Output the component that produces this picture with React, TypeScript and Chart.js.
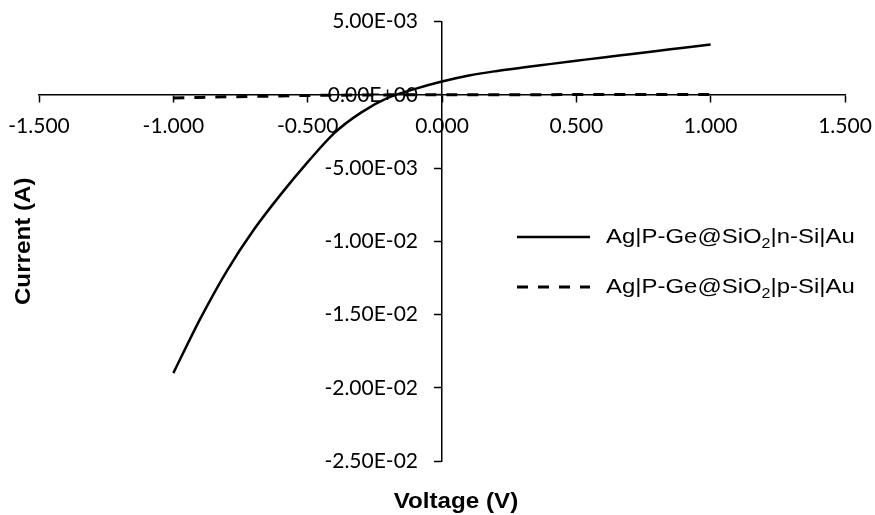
import React, { useEffect, useRef } from "react";
import { Chart, registerables } from "chart.js";

Chart.register(...registerables);

// ---- data ----
const voltage = [-1.0, -0.9, -0.8, -0.7, -0.6, -0.5, -0.4, -0.3, -0.2, -0.1, 0.0, 0.1, 0.2, 0.3, 0.4, 0.5, 0.6, 0.7, 0.8, 0.9, 1.0];
const currentNSi = [-0.0190, -0.0153, -0.0120, -0.0092, -0.0068, -0.0046, -0.0026, -0.0012, -0.0002, 0.0004, 0.0009, 0.00131, 0.00161, 0.00186, 0.00209, 0.00232, 0.00255, 0.00277, 0.00299, 0.00321, 0.00343];
const currentPSi = [-0.00022, -0.00018, -0.00014, -0.00011, -0.00008, -0.00005, -0.00003, -0.000015, -0.000008, -0.000003, 0.0, 0.000002, 0.000004, 0.000006, 0.000008, 0.00001, 0.000012, 0.000014, 0.000016, 0.000018, 0.00002];

const xMin = -1.5;
const xMax = 1.5;
const xStep = 0.5;
const yMin = -0.025;
const yMax = 0.005;
const yStep = 0.005;

const xTitle = "Voltage (V)";
const yTitle = "Current (A)";
const legendPre = ["Ag|P-Ge@SiO", "Ag|P-Ge@SiO"];
const legendSub = ["2", "2"];
const legendPost = ["|n-Si|Au", "|p-Si|Au"];
const seriesNames = ["Ag|P-Ge@SiO2|n-Si|Au", "Ag|P-Ge@SiO2|p-Si|Au"];

// ---- layout ----
const W = 875;
const H = 515;
const PAD = { left: 39, right: 30, top: 21.5, bottom: 54 };
const Y_LABEL_GAP_PX = 24;
const pxPerVolt = (W - PAD.left - PAD.right) / (xMax - xMin);
const yLabelAnchor = -Y_LABEL_GAP_PX / pxPerVolt;

function fmtSci(v: number): string {
  if (Math.abs(v) < 1e-12) return "0.00E+00";
  const parts = v.toExponential(2).split("e");
  const n = parseInt(parts[1], 10);
  return parts[0] + "E" + (n < 0 ? "-" : "+") + String(Math.abs(n)).padStart(2, "0");
}

const TICK_FONT = "Lato";
const TEXT_FONT = '"Liberation Sans", Arial, sans-serif';
const STRETCH = 1.1;
const LEGEND_STRETCH = 1.14;

const zeroPadding = (scale: any) => {
  scale.paddingLeft = 0;
  scale.paddingRight = 0;
  scale.paddingTop = 0;
  scale.paddingBottom = 0;
};

const overlayPlugin = {
  id: "overlayText",
  afterDraw(chart: any) {
    const ctx = chart.ctx as CanvasRenderingContext2D;
    const area = chart.chartArea;
    const xs = chart.scales.x;
    ctx.save();
    ctx.fillStyle = "#000";
    // axis titles
    ctx.font = "bold 22px " + TEXT_FONT;
    ctx.textAlign = "center";
    ctx.textBaseline = "middle";
    ctx.save();
    ctx.translate(xs.getPixelForValue(0) + 14, area.bottom + 41);
    ctx.scale(STRETCH, 1);
    ctx.fillText(xTitle, 0, 0);
    ctx.restore();
    ctx.save();
    ctx.translate(24, (area.top + area.bottom) / 2);
    ctx.rotate(-Math.PI / 2);
    ctx.scale(STRETCH, 1);
    ctx.fillText(yTitle, 0, 0);
    ctx.restore();

    // legend
    const ds = chart.data.datasets;
    const lx0 = 517;
    const lx1 = 590;
    const tx = 606;
    const rows = [237, 287];
    for (let i = 0; i < ds.length; i++) {
      const y = rows[i];
      ctx.save();
      ctx.strokeStyle = ds[i].borderColor;
      ctx.lineWidth = ds[i].borderWidth;
      ctx.setLineDash(ds[i].borderDash || []);
      ctx.beginPath();
      ctx.moveTo(lx0, y);
      ctx.lineTo(lx1, y);
      ctx.stroke();
      ctx.restore();

      ctx.save();
      ctx.translate(tx, y);
      ctx.scale(LEGEND_STRETCH, 1);
      ctx.textAlign = "left";
      ctx.textBaseline = "middle";
      ctx.font = "21px " + TEXT_FONT;
      let x = 0;
      ctx.fillText(legendPre[i], x, 0);
      x += ctx.measureText(legendPre[i]).width;
      ctx.font = "14px " + TEXT_FONT;
      ctx.fillText(legendSub[i], x, 7);
      x += ctx.measureText(legendSub[i]).width;
      ctx.font = "21px " + TEXT_FONT;
      ctx.fillText(legendPost[i], x, 0);
      ctx.restore();
    }
    ctx.restore();
  },
};

export default function App() {
  const ref = useRef<HTMLCanvasElement | null>(null);

  useEffect(() => {
    if (!ref.current) return;
    const tickGrid = {
      drawOnChartArea: false,
      drawTicks: true,
      tickLength: 7,
      tickWidth: 1.5,
      tickColor: "#000",
    };
    const chart = new Chart(ref.current, {
      type: "line",
      data: {
        datasets: [
          {
            label: seriesNames[0],
            data: voltage.map((v, i) => ({ x: v, y: currentNSi[i] })),
            borderColor: "#000",
            borderWidth: 2.5,
            pointRadius: 0,
            cubicInterpolationMode: "monotone",
            fill: false,
            yAxisID: "y",
          },
          {
            label: seriesNames[1],
            data: voltage.map((v, i) => ({ x: v, y: currentPSi[i] })),
            borderColor: "#000",
            borderWidth: 3,
            borderDash: [11, 10],
            pointRadius: 0,
            cubicInterpolationMode: "monotone",
            fill: false,
            yAxisID: "y",
          },
        ],
      },
      options: {
        responsive: false,
        animation: false,
        layout: { padding: PAD },
        plugins: {
          legend: { display: false },
          tooltip: { enabled: false },
        },
        scales: {
          x: {
            type: "linear",
            min: xMin,
            max: xMax,
            position: { y: 0 },
            afterFit: zeroPadding,
            ticks: {
              stepSize: xStep,
              autoSkip: false,
              maxRotation: 0,
              padding: 12,
              color: "#000",
              font: { family: TICK_FONT, size: 21 },
              callback: (v: any) => Number(v).toFixed(3),
            },
            grid: tickGrid,
            border: { display: true, color: "#000", width: 1.5 },
          },
          y: {
            type: "linear",
            min: yMin,
            max: yMax,
            position: { x: 0 },
            afterFit: zeroPadding,
            ticks: { stepSize: yStep, display: false },
            grid: tickGrid,
            border: { display: true, color: "#000", width: 1.5 },
          },
          yLabels: {
            type: "linear",
            min: yMin,
            max: yMax,
            position: { x: yLabelAnchor },
            afterFit: zeroPadding,
            ticks: {
              stepSize: yStep,
              autoSkip: false,
              color: "#000",
              font: { family: TICK_FONT, size: 21 },
              callback: (v: any) => fmtSci(Number(v)),
            },
            grid: { display: false },
            border: { display: false },
          },
        },
      },
      plugins: [overlayPlugin],
    } as any);
    return () => chart.destroy();
  }, []);

  return (
    <div style={{ position: "fixed", left: 0, top: 0, width: W, height: H, background: "#fff" }}>
      <canvas ref={ref} width={W} height={H} />
    </div>
  );
}
